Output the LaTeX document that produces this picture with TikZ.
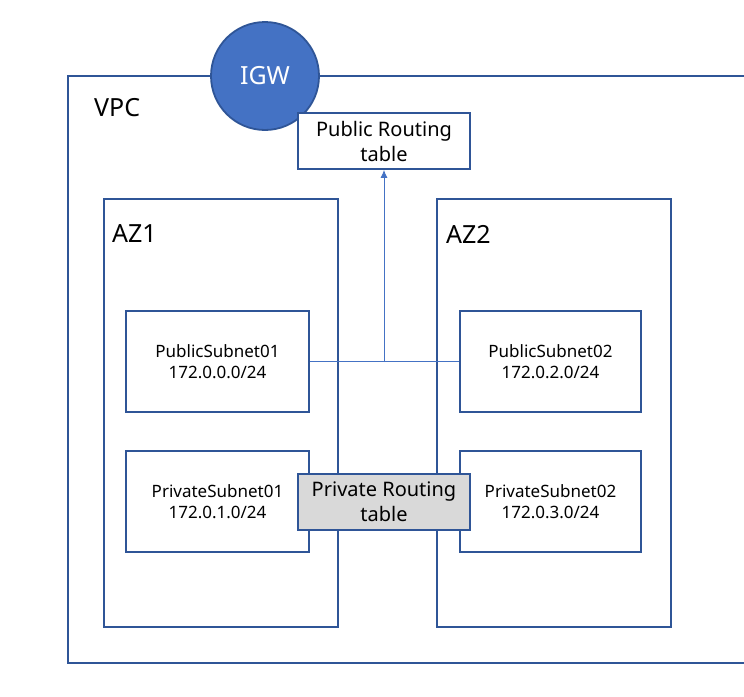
\documentclass[tikz,border=0pt]{standalone}
\usepackage{fontspec}
\setmainfont{Noto Sans}
\usetikzlibrary{arrows.meta}
\definecolor{bord}{HTML}{2F5597}
\definecolor{igwfill}{HTML}{4472C4}
\definecolor{conn}{HTML}{4472C4}
\definecolor{grayfill}{HTML}{D9D9D9}
\begin{document}
\begin{tikzpicture}[x=1pt,y=-1pt,
  box/.style={draw=bord, line width=1.8pt, inner sep=0pt, align=center, fill=white},
  subnet/.style={box, minimum width=183pt, minimum height=101pt, font=\fontsize{17}{21.5}\selectfont},
  rtable/.style={box, minimum width=172pt, minimum height=56pt, font=\fontsize{20}{25}\selectfont},
  azbox/.style={draw=bord, line width=1.8pt, inner sep=0pt, minimum width=234pt, minimum height=428pt},
  biglabel/.style={anchor=west, inner sep=0pt, font=\fontsize{25}{30}\selectfont},
  connector/.style={draw=conn, line width=0.9pt}]
\useasboundingbox (0,0) rectangle (744,696);
\fill[white] (0,0) rectangle (744,696);
% VPC
\node[draw=bord, line width=1.8pt, inner sep=0pt, minimum width=700pt, minimum height=587pt, anchor=north west] (vpc) at (67,75) {};
\node[biglabel] (vpclabel) at (94,108) {VPC};
% AZs
\node[azbox, anchor=north west] (az1) at (103,198) {};
\node[azbox, anchor=north west] (az2) at (436,198) {};
\node[biglabel] (az1label) at (112,234) {AZ1};
\node[biglabel] (az2label) at (446,234) {AZ2};
% subnets
\node[subnet] (pub1) at (217.5,361.5) {PublicSubnet01\\172.0.0.0/24};
\node[subnet] (priv1) at (217.5,501.5) {PrivateSubnet01\\172.0.1.0/24};
\node[subnet, minimum width=181pt] (pub2) at (550.5,361.5) {PublicSubnet02\\172.0.2.0/24};
\node[subnet, minimum width=181pt] (priv2) at (550.5,501.5) {PrivateSubnet02\\172.0.3.0/24};
% IGW
\node[circle, draw=bord, line width=1.8pt, fill=igwfill, minimum size=108pt, inner sep=0pt, text=white, font=\fontsize{25}{30}\selectfont] (igw) at (265,76) {IGW};
% routing tables
\node[rtable] (pubrt) at (384,141) {Public Routing\\table};
\node[rtable, fill=grayfill] (privrt) at (384,502) {Private Routing\\table};
% connectors
\coordinate (junc) at (384,362);
\draw[connector] (pub1.east) -- (pub2.west);
\draw[connector, -{Latex[length=8pt,width=7pt]}] (junc) -- (pubrt.south);
\end{tikzpicture}
\end{document}
